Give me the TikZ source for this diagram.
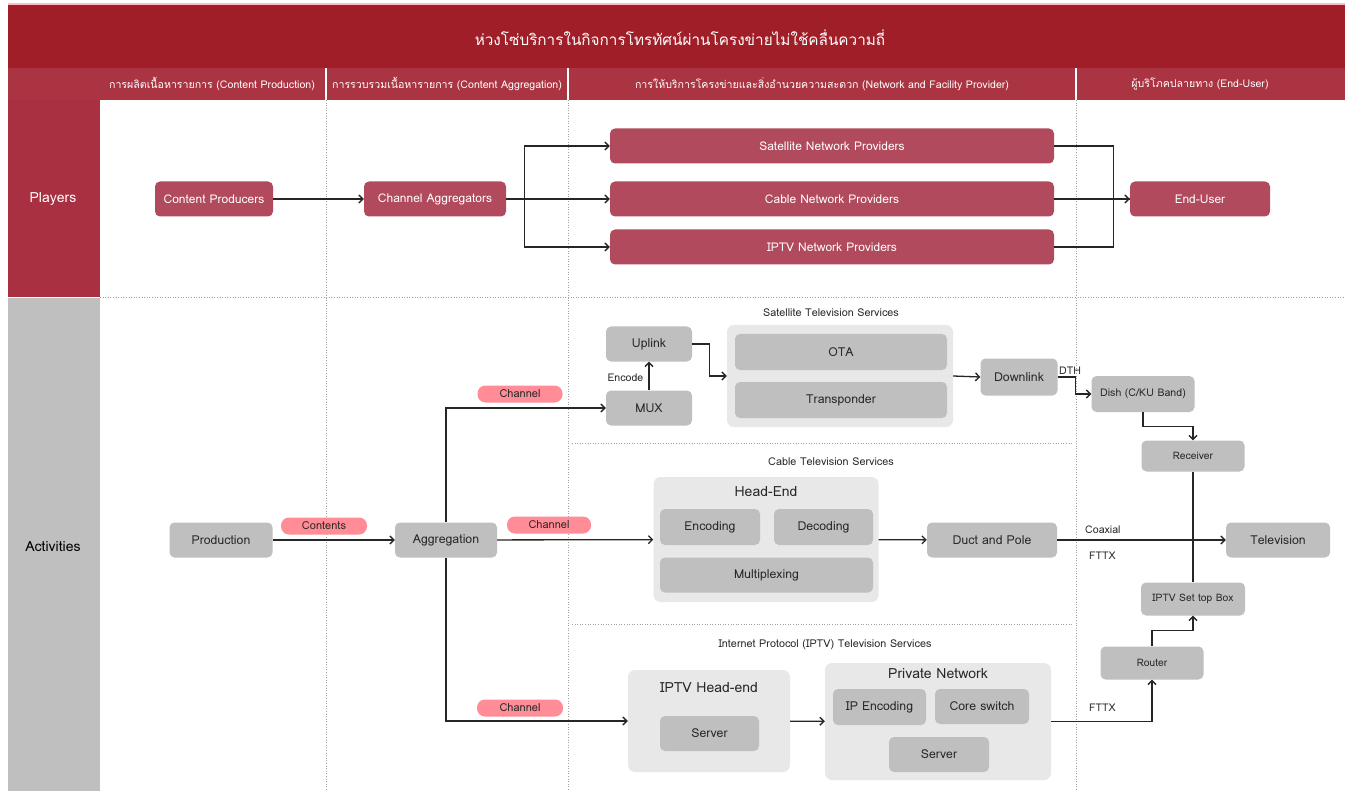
\documentclass[tikz,border=0pt]{standalone}
\usepackage{fontspec}
\setmainfont[Script=Thai]{Loma}
\usetikzlibrary{arrows.meta}
\definecolor{titlered}{RGB}{160,30,39}
\definecolor{headred}{RGB}{170,52,66}
\definecolor{colred}{RGB}{168,48,64}
\definecolor{nodered}{RGB}{176,74,92}
\definecolor{nodegray}{RGB}{191,191,191}
\definecolor{contgray}{RGB}{232,232,232}
\definecolor{pillpink}{RGB}{255,140,150}
\definecolor{txtdark}{RGB}{40,40,40}
\definecolor{dotgray}{RGB}{160,160,160}
\tikzset{
  redbox/.style={fill=nodered, rounded corners=5pt, text=white, font=\fontsize{12}{14}\selectfont, inner sep=0pt},
  graybox/.style={fill=nodegray, rounded corners=5pt, text=txtdark, font=\fontsize{12.3}{14}\selectfont, inner sep=0pt},
  smallgray/.style={graybox, font=\fontsize{10.3}{12}\selectfont},
  contbox/.style={fill=contgray, rounded corners=7pt, inner sep=0pt},
  pill/.style={fill=pillpink, rounded corners=8pt, text=txtdark, font=\fontsize{11}{12}\selectfont, inner sep=0pt, minimum height=17pt},
  arr/.style={draw=black!85, line width=1.3pt, -{Straight Barb[length=4pt,width=8pt,line width=1.3pt]}},
  ln/.style={draw=black!85, line width=1.3pt},
  dotline/.style={draw=dotgray, line width=0.6pt, dotted},
  hdr/.style={text=white, font=\fontsize{10.6}{12}\selectfont},
  sect/.style={text=txtdark, font=\fontsize{10.8}{12}\selectfont},
  conttitle/.style={text=txtdark, font=\fontsize{14}{16}\selectfont},
  lbl/.style={text=txtdark, font=\fontsize{10.6}{12}\selectfont, inner sep=0pt}
}
\begin{document}
\begin{tikzpicture}[x=1pt,y=-1pt]
\useasboundingbox (0,0) rectangle (1351,791);
\fill[white] (0,0) rectangle (1351,791);
% title band
\fill[pillpink!60] (8,3) rectangle (1345,5);
\fill[titlered] (8,5) rectangle (1345,68);
\node[text=white, font=\fontsize{15.3}{18}\selectfont] (title) at (680,38) {ห่วงโซ่บริการในกิจการโทรทัศน์ผ่านโครงข่ายไม่ใช้คลื่นความถี่};
% header row
\fill[headred] (8,68) rectangle (1345,100);
\fill[colred] (8,100) rectangle (100,297);
\fill[nodegray] (8,298) rectangle (100,791);
\draw[white, line width=1.5pt] (326,68) -- (326,100) (568,68) -- (568,100) (1076,68) -- (1076,100);
\node[hdr] (h1) at (212,84) {การผลิตเนื้อหารายการ (Content Production)};
\node[hdr] (h2) at (447,84) {การรวบรวมเนื้อหารายการ (Content Aggregation)};
\node[hdr] (h3) at (822,84) {การให้บริการโครงข่ายและสิ่งอำนวยความสะดวก (Network and Facility Provider)};
\node[hdr] (h4) at (1200,84) {ผู้บริโภคปลายทาง (End-User)};
\node[text=white, font=\fontsize{14}{16}\selectfont] (players) at (53,199) {Players};
\node[text=black, font=\fontsize{14}{16}\selectfont] (activities) at (53,547) {Activities};
% dotted grid
\draw[dotline] (326,100) -- (326,791) (568,100) -- (568,791) (1076,100) -- (1076,791);
\draw[dotline] (100,297) -- (1345,297);
\draw[dotline] (572,443) -- (1073,443) (572,624) -- (1073,624);
% Players row
\node[redbox, minimum width=118pt, minimum height=35pt] (cp) at (214,199) {Content Producers};
\node[redbox, minimum width=142pt, minimum height=35pt] (ca) at (435,199) {Channel Aggregators};
\node[redbox, minimum width=444pt, minimum height=35pt] (snp) at (832,146) {Satellite Network Providers};
\node[redbox, minimum width=444pt, minimum height=35pt] (cnp) at (832,199) {Cable Network Providers};
\node[redbox, minimum width=444pt, minimum height=35pt] (inp) at (832,247) {IPTV Network Providers};
\node[redbox, minimum width=140pt, minimum height=35pt] (eu) at (1200,199) {End-User};
\draw[arr] (cp) -- (ca);
\draw[arr] (ca.east) -- ++(18,0) |- (snp.west);
\draw[arr] (ca.east) -- (cnp.west);
\draw[arr] (ca.east) -- ++(18,0) |- (inp.west);
\draw[ln] (snp.east) -- ++(59,0) |- (eu.west);
\draw[ln] (inp.east) -- ++(59,0) |- (eu.west);
\draw[arr] (cnp.east) -- (eu.west);
% Activities: production/aggregation
\node[graybox, minimum width=103pt, minimum height=35pt] (prod) at (221,540) {Production};
\node[graybox, minimum width=102pt, minimum height=35pt] (agg) at (446,540) {Aggregation};
\node[pill, minimum width=86pt] (pcont) at (324,526) {Contents};
\node[pill, minimum width=84pt] (pch2) at (549,525) {Channel};
\node[pill, minimum width=85pt] (pch1) at (520,394) {Channel};
\node[pill, minimum width=86pt] (pch3) at (520,708) {Channel};
% Satellite
\node[sect] (satt) at (831,313) {Satellite Television Services};
\node[graybox, minimum width=86pt, minimum height=35pt] (uplink) at (649,344) {Uplink};
\node[graybox, minimum width=86pt, minimum height=35pt] (mux) at (649,408) {MUX};
\node[contbox, minimum width=226pt, minimum height=102pt] (satc) at (840,376) {};
\node[graybox, minimum width=212pt, minimum height=36pt] (ota) at (841,352) {OTA};
\node[graybox, minimum width=212pt, minimum height=36pt] (trans) at (841,400) {Transponder};
\node[graybox, minimum width=77pt, minimum height=37pt] (down) at (1019,377) {Downlink};
\node[graybox, font=\fontsize{10.6}{12}\selectfont, minimum width=103pt, minimum height=36pt] (dish) at (1143,394) {Dish (C/KU Band)};
\node[smallgray, minimum width=103pt, minimum height=31pt] (recv) at (1193,456) {Receiver};
\draw[arr] (mux) -- (uplink) node[lbl, pos=0.45, left=5pt] (enc) {Encode};
\draw[arr] (uplink.east) -- ++(17,0) |- (satc.west);
\draw[arr] (satc.east) -- (down.west);
\draw[arr] (down.east) -- ++(18,0) |- (dish.west);
\node[lbl, anchor=west] (dth) at (1059,371) {DTH};
\draw[arr] (dish.south) -- ++(0,14) -| (recv.north);
\draw[arr] (agg.north) |- (mux.west);
% Cable
\node[sect] (cabt) at (831,462) {Cable Television Services};
\node[contbox, minimum width=225pt, minimum height=125pt] (he) at (766,539.5) {};
\node[conttitle] (hett) at (766,492) {Head-End};
\node[graybox, minimum width=100pt, minimum height=36pt] (enc2) at (710,527) {Encoding};
\node[graybox, minimum width=99pt, minimum height=36pt] (dec) at (823.5,527) {Decoding};
\node[graybox, minimum width=213pt, minimum height=35pt] (mpx) at (766.5,575) {Multiplexing};
\node[graybox, minimum width=130pt, minimum height=35pt] (duct) at (992,540) {Duct and Pole};
\node[graybox, minimum width=104pt, minimum height=35pt] (tv) at (1278,540) {Television};
\node[smallgray, minimum width=104pt, minimum height=33pt] (stb) at (1193,599) {IPTV Set top Box};
\node[smallgray, minimum width=103pt, minimum height=33pt] (router) at (1152,663) {Router};
\draw[arr] (prod) -- (agg);
\draw[arr] (agg) -- (he);
\draw[arr] (he) -- (duct);
\draw[ln] (recv.south) -- (stb.north);
\draw[arr] (duct) -- (tv);
\node[lbl, anchor=west] (coax) at (1085,530) {Coaxial};
\node[lbl, anchor=west] (fttx1) at (1089,556) {FTTX};
\draw[arr] (router.north) -- ++(0,-16) -| (stb.south);
% IPTV
\node[sect] (iptvt) at (825,645) {Internet Protocol (IPTV) Television Services};
\node[contbox, minimum width=162pt, minimum height=102pt] (ihe) at (709,721) {};
\node[conttitle] (ihet) at (709,688) {IPTV Head-end};
\node[graybox, minimum width=99pt, minimum height=35pt] (srv1) at (709.5,733.5) {Server};
\node[contbox, minimum width=226pt, minimum height=117pt] (pnet) at (938,721.5) {};
\node[conttitle] (pnett) at (938,674) {Private Network};
\node[graybox, minimum width=93pt, minimum height=36pt] (ipenc) at (879.5,707) {IP Encoding};
\node[graybox, minimum width=94pt, minimum height=35pt] (core) at (982,706.5) {Core switch};
\node[graybox, minimum width=100pt, minimum height=35pt] (srv2) at (939,754.5) {Server};
\draw[arr] (agg.south) |- (ihe.west);
\draw[arr] (ihe) -- (pnet);
\draw[arr] (pnet.east) -| (router.south);
\node[lbl, anchor=west] (fttx2) at (1089,708) {FTTX};
\end{tikzpicture}
\end{document}
